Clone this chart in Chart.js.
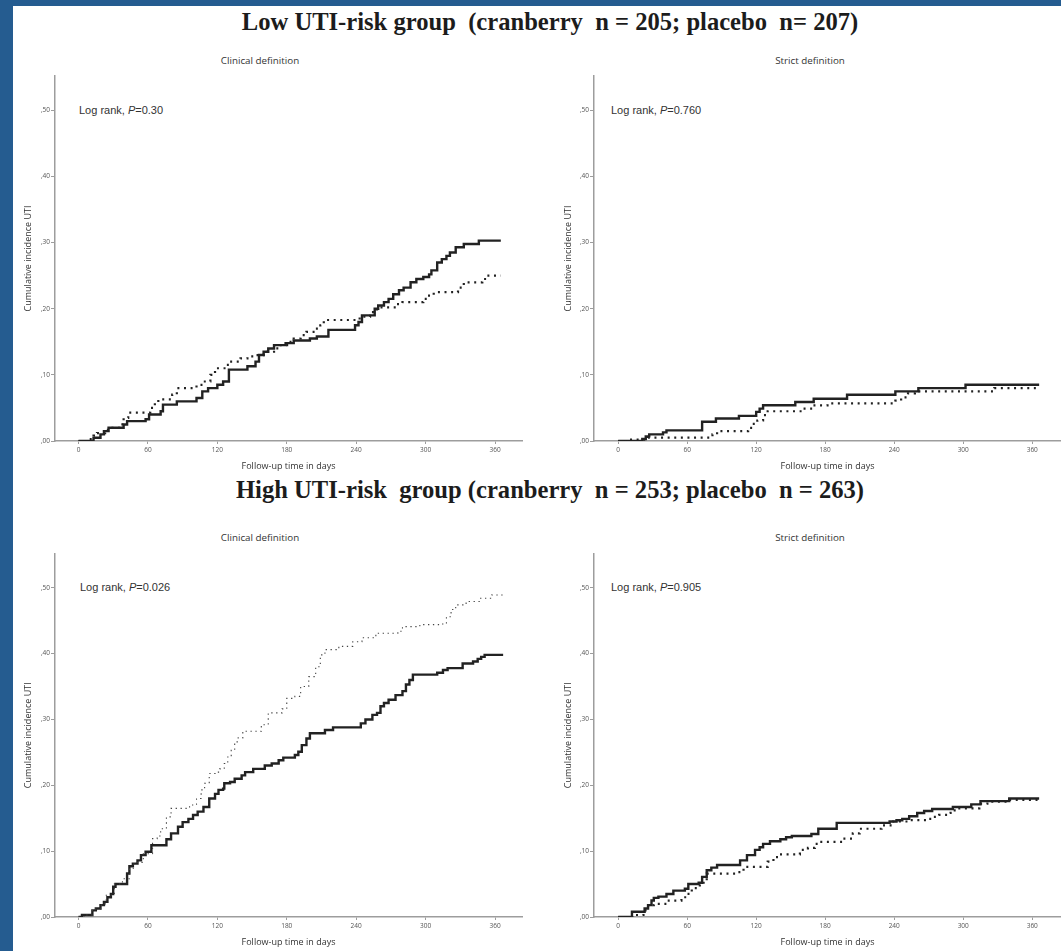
<!DOCTYPE html>
<html>
<head>
<meta charset="utf-8">
<script src="https://cdn.jsdelivr.net/npm/chart.js@4.4.1/dist/chart.umd.min.js"></script>
<style>
  body { margin: 0; background: #fff; width: 1061px; height: 951px; overflow: hidden; position: relative; }
  .frameLeft { position: absolute; left: 0; top: 0; width: 13px; height: 951px; background: #255c90; }
  .frameTop { position: absolute; left: 0; top: 0; width: 1061px; height: 6px; background: #255c90; }
  .bigTitle { position: absolute; left: 0; width: 1100px; text-align: center; white-space: pre;
    font-family: "Liberation Serif", "Times New Roman", serif; font-weight: bold; font-size: 24.6px;
    line-height: 24.6px; color: #1c1c1c; }
  .panelTitle { position: absolute; width: 200px; text-align: center; font-family: "Open Sans", sans-serif;
    font-size: 9.8px; line-height: 12px; color: #333; }
  .logRank { position: absolute; font-family: "Liberation Sans", Arial, sans-serif; font-size: 11px;
    line-height: 14px; color: #333; white-space: nowrap; }
  canvas { position: absolute; }
</style>
</head>
<body>
<div class="frameLeft"></div>
<div class="frameTop"></div>

<div class="bigTitle" style="top:10px">Low UTI-risk group  (cranberry  n = 205; placebo  n= 207)</div>
<div class="bigTitle" style="top:478px">High UTI-risk  group (cranberry  n = 253; placebo  n = 263)</div>

<div class="panelTitle" style="left:160px; top:55px">Clinical definition</div>
<div class="panelTitle" style="left:710px; top:55px">Strict definition</div>
<div class="panelTitle" style="left:160px; top:532px">Clinical definition</div>
<div class="panelTitle" style="left:710px; top:532px">Strict definition</div>

<div class="logRank" style="left:79px; top:103px">Log rank, <i>P</i>=0.30</div>
<div class="logRank" style="left:611px; top:103px">Log rank, <i>P</i>=0.760</div>
<div class="logRank" style="left:80px; top:580px">Log rank, <i>P</i>=0.026</div>
<div class="logRank" style="left:611px; top:580px">Log rank, <i>P</i>=0.905</div>

<canvas id="lowClinical" width="516" height="405" style="left:14px; top:68px"></canvas>
<canvas id="lowStrict" width="507" height="405" style="left:554px; top:68px"></canvas>
<canvas id="highClinical" width="516" height="404" style="left:14px; top:545px"></canvas>
<canvas id="highStrict" width="507" height="404" style="left:554px; top:545px"></canvas>

<script>
// axis ticks
const xTicks = [0, 60, 120, 180, 240, 300, 360];
const yTicks = [0, 0.1, 0.2, 0.3, 0.4, 0.5];
const yTickLabels = [',00', ',10', ',20', ',30', ',40', ',50'];

// [day, cumulative incidence] - cranberry = solid, placebo = dotted
const lowClinicalCranberry = [[0,0],[13,0.005],[19,0.01],[22,0.015],[26,0.02],[39,0.025],[42,0.03],[58,0.033],[61,0.04],[71,0.045],[73,0.055],[85,0.06],[102,0.065],[107,0.075],[112,0.08],[120,0.085],[125,0.09],[130,0.108],[146,0.113],[153,0.12],[156,0.13],[160,0.135],[164,0.14],[169,0.145],[179,0.148],[186,0.152],[200,0.155],[206,0.158],[216,0.168],[239,0.175],[242,0.18],[245,0.19],[256,0.2],[259,0.205],[264,0.21],[268,0.215],[272,0.222],[277,0.228],[281,0.232],[287,0.24],[292,0.245],[298,0.248],[303,0.252],[305,0.258],[310,0.27],[314,0.275],[318,0.28],[321,0.285],[326,0.293],[333,0.298],[346,0.303],[365,0.303]];
const lowClinicalPlacebo = [[0,0],[8,0.003],[13,0.008],[16,0.012],[23,0.017],[27,0.02],[35,0.025],[39,0.035],[43,0.043],[62,0.05],[66,0.058],[69,0.063],[81,0.07],[85,0.08],[102,0.085],[108,0.09],[114,0.1],[118,0.11],[128,0.115],[131,0.12],[140,0.125],[146,0.128],[153,0.13],[160,0.135],[169,0.14],[174,0.145],[182,0.15],[186,0.155],[192,0.16],[197,0.165],[205,0.17],[209,0.175],[212,0.183],[243,0.188],[252,0.195],[258,0.202],[275,0.207],[280,0.21],[298,0.215],[301,0.22],[307,0.225],[328,0.232],[333,0.24],[349,0.245],[353,0.25],[365,0.25]];

const lowStrictCranberry = [[0,0],[21,0.003],[24,0.007],[27,0.01],[39,0.013],[42,0.016],[73,0.029],[85,0.034],[105,0.038],[120,0.044],[123,0.049],[126,0.054],[154,0.059],[170,0.064],[199,0.07],[241,0.075],[261,0.08],[302,0.085],[366,0.085]];
const lowStrictPlacebo = [[0,0],[10,0.002],[26,0.005],[82,0.01],[86,0.015],[113,0.02],[117,0.026],[121,0.031],[126,0.039],[130,0.045],[161,0.049],[169,0.054],[182,0.057],[241,0.061],[246,0.066],[252,0.072],[258,0.075],[327,0.08],[365,0.08]];

const highClinicalCranberry = [[0,0],[3,0.003],[12,0.01],[15,0.013],[19,0.018],[22,0.023],[25,0.03],[28,0.035],[30,0.046],[32,0.05],[42,0.066],[44,0.077],[47,0.081],[51,0.086],[54,0.094],[58,0.099],[63,0.109],[76,0.118],[80,0.127],[86,0.137],[90,0.144],[95,0.149],[99,0.155],[103,0.16],[108,0.167],[113,0.18],[118,0.187],[121,0.193],[125,0.195],[126,0.203],[131,0.205],[135,0.21],[141,0.215],[144,0.22],[151,0.225],[161,0.23],[167,0.233],[173,0.238],[177,0.242],[187,0.246],[190,0.251],[193,0.261],[197,0.271],[200,0.279],[213,0.284],[220,0.288],[244,0.294],[248,0.3],[254,0.307],[258,0.31],[261,0.32],[264,0.325],[268,0.33],[274,0.337],[280,0.343],[283,0.353],[286,0.36],[289,0.368],[310,0.371],[315,0.375],[319,0.378],[332,0.385],[341,0.388],[345,0.392],[348,0.395],[351,0.398],[367,0.398]];
const highClinicalPlacebo = [[0,0],[5,0.003],[12,0.012],[20,0.02],[24,0.033],[31,0.05],[38,0.058],[44,0.074],[48,0.083],[56,0.096],[64,0.119],[68,0.123],[71,0.134],[76,0.152],[80,0.165],[96,0.17],[102,0.18],[106,0.193],[109,0.203],[113,0.218],[118,0.22],[122,0.225],[126,0.233],[129,0.243],[132,0.253],[135,0.266],[138,0.272],[142,0.282],[158,0.292],[164,0.31],[176,0.316],[180,0.332],[187,0.335],[192,0.35],[199,0.365],[205,0.38],[209,0.398],[213,0.406],[225,0.411],[237,0.418],[245,0.424],[257,0.431],[276,0.434],[280,0.441],[295,0.444],[312,0.445],[318,0.456],[322,0.467],[326,0.474],[335,0.479],[347,0.484],[357,0.489],[367,0.489]];

const highStrictCranberry = [[0,0],[12,0.008],[23,0.013],[26,0.018],[29,0.025],[31,0.029],[35,0.031],[42,0.035],[48,0.04],[58,0.043],[61,0.05],[70,0.052],[73,0.061],[77,0.071],[81,0.075],[86,0.079],[106,0.086],[112,0.094],[119,0.102],[123,0.106],[126,0.111],[132,0.115],[141,0.118],[146,0.121],[151,0.123],[168,0.126],[174,0.134],[190,0.143],[236,0.145],[242,0.147],[247,0.149],[253,0.153],[260,0.158],[266,0.161],[273,0.164],[291,0.167],[307,0.171],[315,0.176],[340,0.18],[366,0.18]];
const highStrictPlacebo = [[0,0],[13,0.003],[22,0.01],[26,0.018],[31,0.02],[42,0.025],[55,0.03],[60,0.035],[64,0.044],[71,0.052],[77,0.066],[103,0.068],[109,0.076],[130,0.084],[135,0.091],[139,0.095],[158,0.102],[165,0.105],[171,0.111],[175,0.114],[195,0.119],[204,0.127],[210,0.134],[229,0.139],[239,0.145],[253,0.147],[269,0.149],[273,0.152],[279,0.155],[286,0.158],[289,0.162],[294,0.165],[314,0.172],[321,0.175],[340,0.178],[366,0.178]];

const AXIS_GREY = '#9d9d9d';
const tickFont = { family: '"Open Sans", sans-serif', size: 6.5 };
const titleFont = { family: '"Open Sans", sans-serif', size: 9 };

function toPoints(pairs) {
  return pairs.map(p => ({ x: p[0], y: p[1] }));
}

function solidLine(pairs) {
  return { data: toPoints(pairs), stepped: true, borderColor: '#222', borderWidth: 2.4,
    pointRadius: 0, fill: false };
}

function dottedLine(pairs, thin) {
  return { data: toPoints(pairs), stepped: true, borderColor: thin ? '#444' : '#222',
    borderWidth: thin ? 1.1 : 2.2, borderDash: thin ? [1.3, 3.6] : [2, 4.6],
    borderCapStyle: 'butt', pointRadius: 0, fill: false };
}

// one KM panel, chart area pinned by fixed axis sizes
function drawPanel(id, cranberry, placebo, xMin, xMax, yWidth, padTop, padRight, thinPlacebo) {
  new Chart(document.getElementById(id), {
    type: 'line',
    data: { datasets: [dottedLine(placebo, thinPlacebo), solidLine(cranberry)] },
    options: {
      responsive: false,
      animation: false,
      devicePixelRatio: 1,
      layout: { padding: { top: padTop, right: padRight, left: 0, bottom: 0 } },
      plugins: { legend: { display: false }, tooltip: { enabled: false } },
      scales: {
        x: {
          type: 'linear', min: xMin, max: xMax,
          afterBuildTicks: axis => { axis.ticks = xTicks.map(v => ({ value: v })); },
          afterFit: axis => { axis.height = 32; },
          ticks: { font: tickFont, color: '#555', padding: 2, maxRotation: 0 },
          grid: { drawOnChartArea: false, tickLength: 3, color: AXIS_GREY },
          border: { color: AXIS_GREY, width: 1.5 },
          title: { display: true, text: 'Follow-up time in days', font: titleFont, color: '#333',
            padding: { top: 0, bottom: 1.6 } }
        },
        y: {
          type: 'linear', min: 0, max: 0.552,
          afterBuildTicks: axis => { axis.ticks = yTicks.map(v => ({ value: v })); },
          afterFit: axis => { axis.width = yWidth; },
          ticks: { font: tickFont, color: '#555', padding: 1,
            callback: v => yTickLabels[yTicks.indexOf(v)] },
          grid: { drawOnChartArea: false, tickLength: 4, color: AXIS_GREY },
          border: { color: AXIS_GREY, width: 1.5 },
          title: { display: true, text: 'Cumulative incidence UTI', font: titleFont, color: '#333',
            padding: { top: 8.9, bottom: 0 } }
        }
      }
    }
  });
}

drawPanel('lowClinical', lowClinicalCranberry, lowClinicalPlacebo, -20.3, 383.3, 41, 8, 8, false);
drawPanel('lowStrict', lowStrictCranberry, lowStrictPlacebo, -21, 385, 40, 8, 0, false);
drawPanel('highClinical', highClinicalCranberry, highClinicalPlacebo, -20.3, 383.3, 41, 8.5, 8, true);
drawPanel('highStrict', highStrictCranberry, highStrictPlacebo, -21, 385, 40, 8.5, 0, false);
</script>
</body>
</html>
